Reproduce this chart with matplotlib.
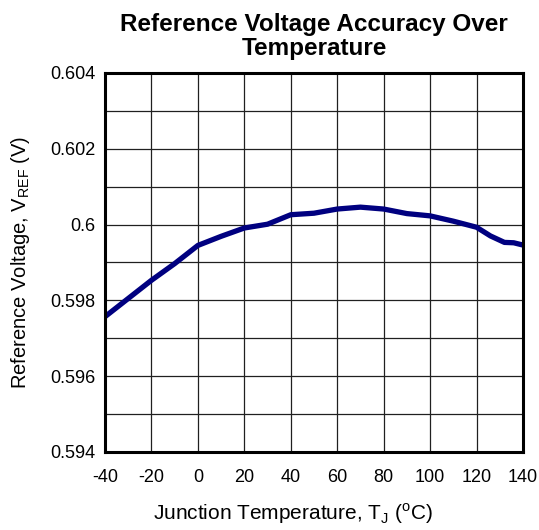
import matplotlib
matplotlib.use("Agg")
import matplotlib.pyplot as plt

temps = [-40, -30, -20, -10, 0, 10, 20, 30, 40, 50, 60, 70, 80, 90, 100, 110, 120, 126, 132, 136, 140]
vref = [0.59757, 0.59805, 0.59853, 0.59897, 0.59945, 0.59969, 0.59991, 0.60001, 0.60026, 0.60030,
        0.60041, 0.60046, 0.60041, 0.60029, 0.60023, 0.60009, 0.59993, 0.59970, 0.59953, 0.59952, 0.59946]
xticks = [-40, -20, 0, 20, 40, 60, 80, 100, 120, 140]
yticks = [0.594, 0.596, 0.598, 0.6, 0.602, 0.604]
ytick_labels = ["0.594", "0.596", "0.598", "0.6", "0.602", "0.604"]

plt.rcParams['font.family'] = ['Liberation Sans', 'DejaVu Sans']
plt.rcParams['mathtext.fontset'] = 'custom'
plt.rcParams['mathtext.rm'] = 'Liberation Sans'

fig = plt.figure(figsize=(5.39, 5.30), dpi=100)
ax = fig.add_axes([0.1948, 0.1472, 0.7755, 0.7151])

ax.plot(temps, vref, color='#000080', lw=3.8, solid_capstyle='butt', zorder=3)

ax.set_xlim(-40, 140)
ax.set_ylim(0.594, 0.604)
ax.set_xticks(xticks)
ax.set_xticklabels([str(t) for t in xticks])
ax.set_yticks(yticks)
ax.set_yticklabels(ytick_labels)
ax.set_yticks([0.594 + 0.001 * i for i in range(11)], minor=True)
ax.grid(True, which='both', color='#202020', lw=0.9)
ax.tick_params(which='both', length=0, labelsize=13, colors='black')
ax.tick_params(axis='x', pad=12)
ax.tick_params(axis='y', pad=7)
for s in ax.spines.values():
    s.set_linewidth(2.2)
    s.set_color('black')
    s.set_zorder(4)

ax.set_xlabel(r"Junction Temperature, T$_\mathregular{J}$ ($^\mathregular{o}$C)", fontsize=15, labelpad=11)
ax.xaxis.label.set_x(0.45)
ax.set_ylabel(r"Reference Voltage, V$_\mathregular{REF}$ (V)", fontsize=14.5, labelpad=13)
ax.set_title("Reference Voltage Accuracy Over\nTemperature", fontsize=17.5, fontweight='bold', pad=13, linespacing=1.05)

fig.savefig("out.png", dpi=100)
